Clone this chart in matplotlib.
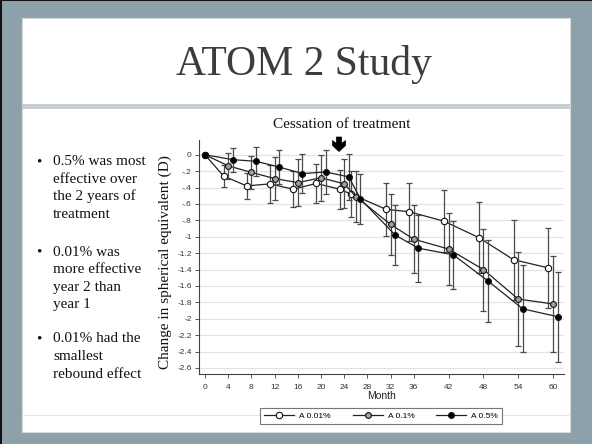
import matplotlib
matplotlib.use("Agg")
import matplotlib.pyplot as plt
from matplotlib.patches import Rectangle, Polygon
from matplotlib.lines import Line2D
from matplotlib.transforms import IdentityTransform
import numpy as np

# ---------------- data ----------------
months = [0, 4, 8, 12, 16, 20, 24, 26, 32, 36, 42, 48, 54, 60]
a001 = [0, -0.26, -0.38, -0.355, -0.42, -0.35, -0.42, -0.48, -0.665, -0.695, -0.81, -1.01, -1.28, -1.38]
a001_err = [0, 0.13, 0.16, 0.23, 0.22, 0.235, 0.24, 0.28, 0.325, 0.355, 0.38, 0.43, 0.49, 0.49]
a01 = [0, -0.135, -0.215, -0.29, -0.34, -0.28, -0.355, -0.51, -0.85, -1.03, -1.15, -1.40, -1.76, -1.82]
a01_err = [0, 0.16, 0.20, 0.26, 0.29, 0.28, 0.30, 0.315, 0.37, 0.415, 0.44, 0.50, 0.57, 0.58]
a05 = [0, -0.06, -0.08, -0.15, -0.23, -0.21, -0.27, -0.54, -0.98, -1.14, -1.22, -1.54, -1.88, -1.975]
a05_err = [0, 0.145, 0.175, 0.21, 0.24, 0.27, 0.28, 0.30, 0.365, 0.41, 0.415, 0.50, 0.53, 0.55]
series_labels = ["A 0.01%", "A 0.1%", "A 0.5%"]

xticks = [0, 4, 8, 12, 16, 20, 24, 28, 32, 36, 42, 48, 54, 60]
yticks = [0, -0.2, -0.4, -0.6, -0.8, -1.0, -1.2, -1.4, -1.6, -1.8, -2.0, -2.2, -2.4, -2.6]
ytick_labels = ["0", "-.2", "-.4", "-.6", "-.8", "-1", "-1.2", "-1.4", "-1.6", "-1.8",
                "-2", "-2.2", "-2.4", "-2.6"]

title = "ATOM 2 Study"
ylabel = "Change in spherical equivalent (D)"
xlabel = "Month"
annot = "Cessation of treatment"
bullets = [
    ["0.5% was most", "effective over", "the 2 years of", "treatment"],
    ["0.01% was", "more effective", "year 2 than", "year 1"],
    ["0.01% had the", "smallest", "rebound effect"],
]

# ---------------- figure ----------------
W, H = 592, 444
fig = plt.figure(figsize=(W / 100, H / 100), dpi=100)


def fx(x):
    return x / W


def fy(y):
    return 1 - y / H


def rect(x0, y0, x1, y1, **kw):
    fig.patches.append(Rectangle((fx(x0), fy(y1)), fx(x1) - fx(x0), fy(y0) - fy(y1),
                                 transform=fig.transFigure, zorder=-10, **kw))


frame = "#8da1ab"
rect(0, 0, W, H, facecolor=frame, edgecolor="none")
rect(0, 0, 2, H, facecolor="#111111", edgecolor="none")
rect(0, 0, W, 1.5, facecolor="#111111", edgecolor="none")
rect(22, 18, 570, 432, facecolor="white", edgecolor="#d5d9dc", linewidth=0.8)
rect(22, 104, 570, 109, facecolor="#c6ced3", edgecolor="none")
fig.lines.append(Line2D([fx(23), fx(569)], [fy(415), fy(415)], transform=fig.transFigure,
                        color="#e8e8e8", lw=0.8, zorder=-9))

serif = ["Liberation Serif", "DejaVu Serif"]
sans = ["Liberation Sans", "DejaVu Sans"]

fig.text(fx(304), fy(75), title, family=serif, fontsize=30, color="#3c3c3c",
         ha="center", va="baseline")
fig.text(fx(342), fy(128), annot, family=serif, fontsize=11, color="#111111",
         ha="center", va="baseline")
fig.text(fx(165), fy(262), ylabel, family=serif, fontsize=11, color="#111111",
         ha="center", va="center", rotation=90)

line_step = 17.5
starts = [165, 255.5, 342.5]
for blk, y0 in zip(bullets, starts):
    fig.text(fx(36), fy(y0), "\u2022", family=serif, fontsize=11, color="#111111",
             ha="left", va="baseline")
    for i, ln in enumerate(blk):
        fig.text(fx(53), fy(y0 + i * line_step), ln, family=serif, fontsize=11,
                 color="#111111", ha="left", va="baseline")

ax_l, ax_r, ax_t, ax_b = 199.3, 564, 140, 374.3
ax = fig.add_axes([fx(ax_l), fy(ax_b), fx(ax_r) - fx(ax_l), fy(ax_t) - fy(ax_b)])
ax.set_xlim(-0.98, 61.9)
ax.set_ylim(-2.678, 0.18)

for y in yticks:
    ax.axhline(y, color="#e3e3e3", lw=0.9, zorder=0)

dodge = [-0.8, 0.0, 0.8]
vals = [a001, a01, a05]
errs = [a001_err, a01_err, a05_err]
faces = ["white", "#a0a0a0", "black"]
sizes = [4.6, 4.2, 4.2]
handles = []
for k in range(3):
    xs = np.array(months, dtype=float)
    xs = np.where(xs > 0, xs + dodge[k], xs)
    ys = np.array(vals[k])
    e = np.array(errs[k])
    m = xs > 0
    ax.errorbar(xs[m], ys[m], yerr=e[m], fmt="none", ecolor="#4a4a4a", elinewidth=0.9,
                capsize=2.0, capthick=0.9, zorder=2 + k)
    h, = ax.plot(xs, ys, color="#222222", lw=0.9, marker="o", ms=sizes[k],
                 mfc=faces[k], mec="#111111", mew=0.8, zorder=3 + k, label=series_labels[k])
    handles.append(h)

ax.set_xticks(xticks)
ax.set_xticklabels([str(t) for t in xticks], family=sans, fontsize=6, color="#333333")
ax.set_yticks(yticks)
ax.set_yticklabels(ytick_labels, family=sans, fontsize=6, color="#333333")
ax.tick_params(axis="both", length=3, width=0.7, color="#555555", pad=2.5)
ax.tick_params(axis="x", pad=4)
for s in ["top", "right"]:
    ax.spines[s].set_visible(False)
for s in ["left", "bottom"]:
    ax.spines[s].set_color("#444444")
    ax.spines[s].set_linewidth(0.8)
ax.set_facecolor("none")
ax.set_xlabel(xlabel, family=sans, fontsize=7.5, color="#222222", labelpad=-1)
ax.xaxis.set_label_coords(0.5, -0.072)

leg = fig.legend(handles=handles, labels=series_labels, ncol=3, loc="center",
                 bbox_to_anchor=(fx(381), fy(416)), prop={"family": sans, "size": 6},
                 frameon=True, fancybox=False, edgecolor="#555555", handlelength=3.6,
                 columnspacing=2.6, handletextpad=0.6, borderpad=0.5)
leg.get_frame().set_linewidth(0.8)

ac = 339
pts = [(ac - 2.6, 137), (ac + 2.6, 137), (ac + 2.6, 143.5), (ac + 6.5, 140.5),
       (ac + 6.5, 145.5), (ac, 151.5), (ac - 6.5, 145.5), (ac - 6.5, 140.5), (ac - 2.6, 143.5)]
pts = [(x, H - y) for x, y in pts]
fig.patches.append(Polygon(pts, closed=True, transform=IdentityTransform(),
                           facecolor="black", edgecolor="black", lw=0.5, zorder=10))

fig.savefig("out.png", dpi=100)
